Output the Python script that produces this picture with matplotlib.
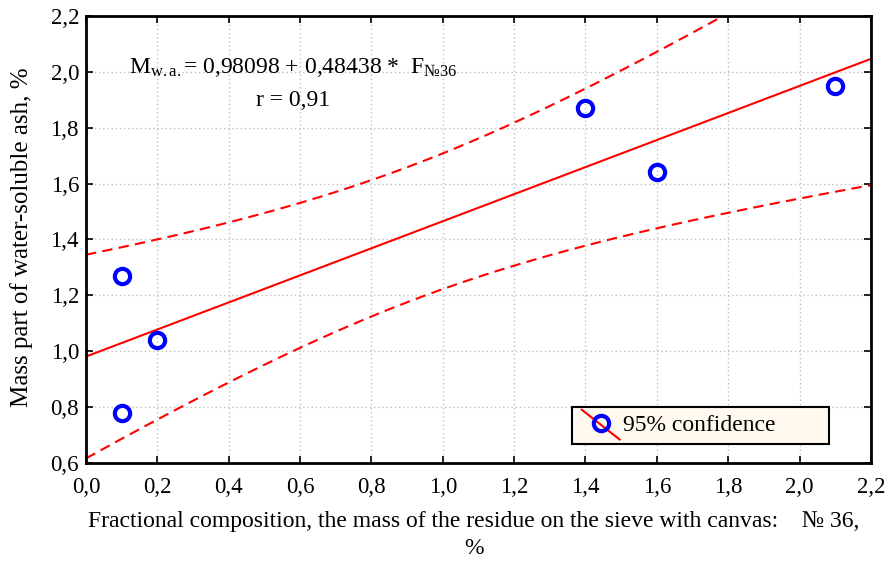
import numpy as np
import matplotlib
matplotlib.use('Agg')
import matplotlib.pyplot as plt
from matplotlib.ticker import FuncFormatter, MultipleLocator
from matplotlib.legend_handler import HandlerBase
from matplotlib.lines import Line2D
from matplotlib.patches import Rectangle

# data
fraction_36 = [0.1, 0.1, 0.2, 1.4, 1.6, 2.1]
ash = [1.27, 0.78, 1.04, 1.87, 1.64, 1.95]
b0 = 0.98098
b1 = 0.48438
t_95 = 2.776  # t value, 4 degrees of freedom

plt.rcParams['font.family'] = ['Liberation Serif', 'DejaVu Serif']
plt.rcParams['mathtext.fontset'] = 'custom'
plt.rcParams['mathtext.rm'] = 'Liberation Serif'
plt.rcParams['mathtext.it'] = 'Liberation Serif:italic'

x = np.array(fraction_36)
y = np.array(ash)

# fit line and 95% band from the points
xx = np.linspace(0, 2.2, 200)
fit = b0 + b1 * xx
resid = y - (b0 + b1 * x)
s = np.sqrt(np.sum(resid ** 2) / (len(x) - 2))
sxx = np.sum((x - x.mean()) ** 2)
half = t_95 * s * np.sqrt(1 / len(x) + (xx - x.mean()) ** 2 / sxx)

fig = plt.figure(figsize=(8.88, 5.61), dpi=100)
ax = fig.add_axes([0.0968, 0.1747, 0.8840, 0.7968])

ax.plot(xx, fit, color='red', lw=1.5)
ax.plot(xx, fit + half, color='red', lw=1.5, ls=(0, (5, 3)))
ax.plot(xx, fit - half, color='red', lw=1.5, ls=(0, (5, 3)))
ax.plot(x, y, 'o', mfc='none', mec='#0000ff', mew=3, ms=11, zorder=5)

ax.set_xlim(0, 2.2)
ax.set_ylim(0.6, 2.2)
ax.xaxis.set_major_locator(MultipleLocator(0.2))
ax.yaxis.set_major_locator(MultipleLocator(0.2))
comma = FuncFormatter(lambda v, p: f'{v:.1f}'.replace('.', ','))
ax.xaxis.set_major_formatter(comma)
ax.yaxis.set_major_formatter(comma)
ax.grid(True, color='#c0c0c0', ls=(0, (1, 2)), lw=1)
ax.tick_params(direction='in', length=5, width=1.2, labelsize=16.5,
               top=True, right=True)
ax.tick_params(axis='x', pad=10)
ax.tick_params(axis='y', pad=5)
for sp in ax.spines.values():
    sp.set_linewidth(2)

fig.text(22 / 888, 1 - 237.5 / 561, 'Mass part of water-soluble ash, %',
         fontsize=18, rotation=90, ha='center', va='center')
fig.text(474 / 888, 1 - 521 / 561,
         'Fractional composition, the mass of the residue on the sieve with canvas:    № 36,',
         fontsize=17, ha='center', va='center')
fig.text(474 / 888, 1 - 549 / 561, '%', fontsize=17, ha='center', va='center')

ax.text(0.58, 2.014, r'M$_{\mathrm{w.a.}}$= 0,98098 + 0,48438 *  F$_{\mathrm{№36}}$',
        fontsize=17, ha='center', va='center')
ax.text(0.58, 1.899, 'r = 0,91', fontsize=17, ha='center', va='center')


class DiagHandler(HandlerBase):
    def create_artists(self, legend, orig, xd, yd, w, h, fs, trans):
        ln = Line2D([xd, xd + w], [yd + h * 1.3, yd - h * 0.5], color='red', lw=1.5)
        mk = Line2D([xd + w / 2], [yd + h / 2], marker='o', mfc='none',
                    mec='#0000ff', mew=3, ms=11, ls='none')
        ln.set_transform(trans)
        mk.set_transform(trans)
        return [ln, mk]


# legend box, wider than its text as in the original
box = Rectangle((0.619, 0.0425), 0.9465 - 0.619, 0.1253 - 0.0425,
                transform=ax.transAxes, facecolor='#fff9ef', edgecolor='black',
                lw=1.5, zorder=6)
ax.add_patch(box)

h = Line2D([], [])
leg = ax.legend([h], ['95% confidence'], handler_map={h: DiagHandler()},
                loc='center left', bbox_to_anchor=(0.619, 0.084),
                borderaxespad=0, frameon=False, fontsize=17,
                handlelength=1.6, handletextpad=0.15, borderpad=0.42)
leg.set_zorder(7)

plt.savefig('out.png', dpi=100)
